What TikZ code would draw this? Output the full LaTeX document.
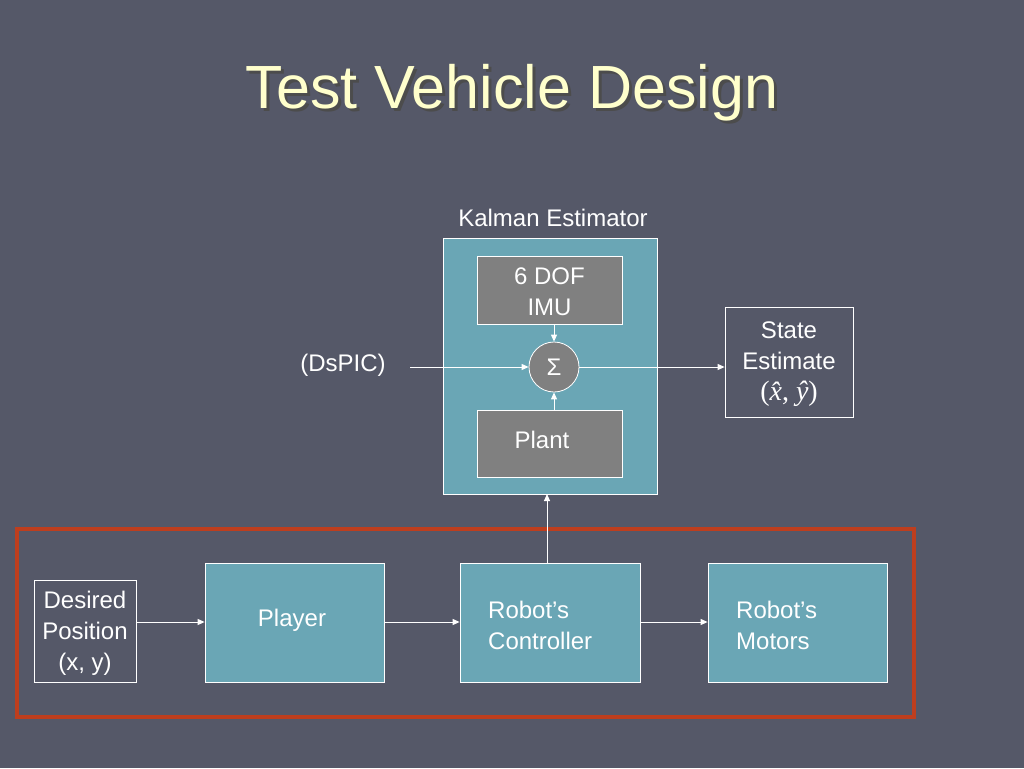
\documentclass[tikz,border=0pt]{standalone}
\usepackage{fontspec}
\setmainfont{Liberation Sans}
\newfontfamily\serifmath{Liberation Serif}
\usetikzlibrary{arrows.meta}
\definecolor{bgc}{RGB}{85,88,104}
\definecolor{tealc}{RGB}{106,166,181}
\definecolor{greyc}{RGB}{128,128,128}
\definecolor{redc}{RGB}{190,62,30}
\definecolor{titlec}{RGB}{255,255,204}
\tikzset{
  wire/.style={draw=white, line width=1pt, -{Triangle[width=6pt,length=7pt]}},
  tealbox/.style={draw=white, line width=0.8pt, fill=tealc},
  greybox/.style={draw=white, line width=0.8pt, fill=greyc},
  openbox/.style={draw=white, line width=0.8pt},
  lbl/.style={text=white, font=\fontsize{24}{31}\selectfont, align=center, inner sep=0pt},
}
\begin{document}
\begin{tikzpicture}[x=1pt,y=-1pt]
\useasboundingbox (0,0) rectangle (1024,768);
\fill[bgc] (0,0) rectangle (1024,768);
% title
\node[text=black!70, font=\fontsize{61}{70}\selectfont, inner sep=0pt] (titleshadow) at (515,96) {Test Vehicle Design};
\node[text=titlec, font=\fontsize{61}{70}\selectfont, inner sep=0pt] (title) at (512,93) {Test Vehicle Design};
% Kalman
\node[lbl] (kalmanlbl) at (553,218) {Kalman Estimator};
\path[tealbox] (443,238) rectangle (657,494);
\node[minimum width=214pt, minimum height=256pt, inner sep=0pt] (kalman) at (550,366) {};
\node[greybox, minimum width=145pt, minimum height=68pt, inner sep=0pt] (imu) at (549.5,290) {};
\node[lbl] (imulbl) at (549.5,292) {6 DOF\\IMU};
\node[greybox, circle, minimum size=50pt, inner sep=0pt, lbl] (sum) at (554,367) {Σ};
\node[greybox, minimum width=145pt, minimum height=67pt, inner sep=0pt] (plant) at (549.5,443.5) {};
\node[lbl] (plantlbl) at (542,440) {Plant};
\node[lbl] (dspic) at (343,365) {(DsPIC)};
\coordinate (dsin) at (410,367);
\node[openbox, minimum width=128pt, minimum height=110pt, inner sep=0pt] (state) at (789,362) {};
\node[lbl] (statelbl) at (789,364) {State\\Estimate\\{\serifmath\fontsize{28}{31}\selectfont(\textit{\^x}, \textit{\^y})}};
\draw[wire] (imu.south -| sum.north) -- (sum.north);
\draw[wire] (plant.north -| sum.south) -- (sum.south);
\draw[wire] (dsin) -- (sum.west);
\draw[wire] (sum.east) -- (state.west |- sum.east);
% red frame
\draw[redc, line width=4pt] (17,529) rectangle (914,717);
% bottom row
\node[openbox, minimum width=102pt, minimum height=102pt, inner sep=0pt] (desired) at (85,631) {};
\node[lbl] (desiredlbl) at (85,633) {Desired\\Position\\(x, y)};
\node[tealbox, minimum width=179pt, minimum height=119pt, inner sep=0pt] (player) at (294.5,622.5) {};
\node[lbl] (playerlbl) at (292,620) {Player};
\node[tealbox, minimum width=180pt, minimum height=119pt, inner sep=0pt] (ctrl) at (550,622.5) {};
\node[lbl, anchor=west, align=left] (ctrllbl) at (488,625) {Robot’s\\Controller};
\node[tealbox, minimum width=179pt, minimum height=119pt, inner sep=0pt] (motors) at (797.5,622.5) {};
\node[lbl, anchor=west, align=left] (motorslbl) at (736,625) {Robot’s\\Motors};
\draw[wire] (desired.east |- 0,622) -- (player.west |- 0,622);
\draw[wire] (player.east |- 0,622) -- (ctrl.west |- 0,622);
\draw[wire] (ctrl.east |- 0,622) -- (motors.west |- 0,622);
\draw[wire] (ctrl.north -| 547,0) -- (547,494);
\end{tikzpicture}
\end{document}
